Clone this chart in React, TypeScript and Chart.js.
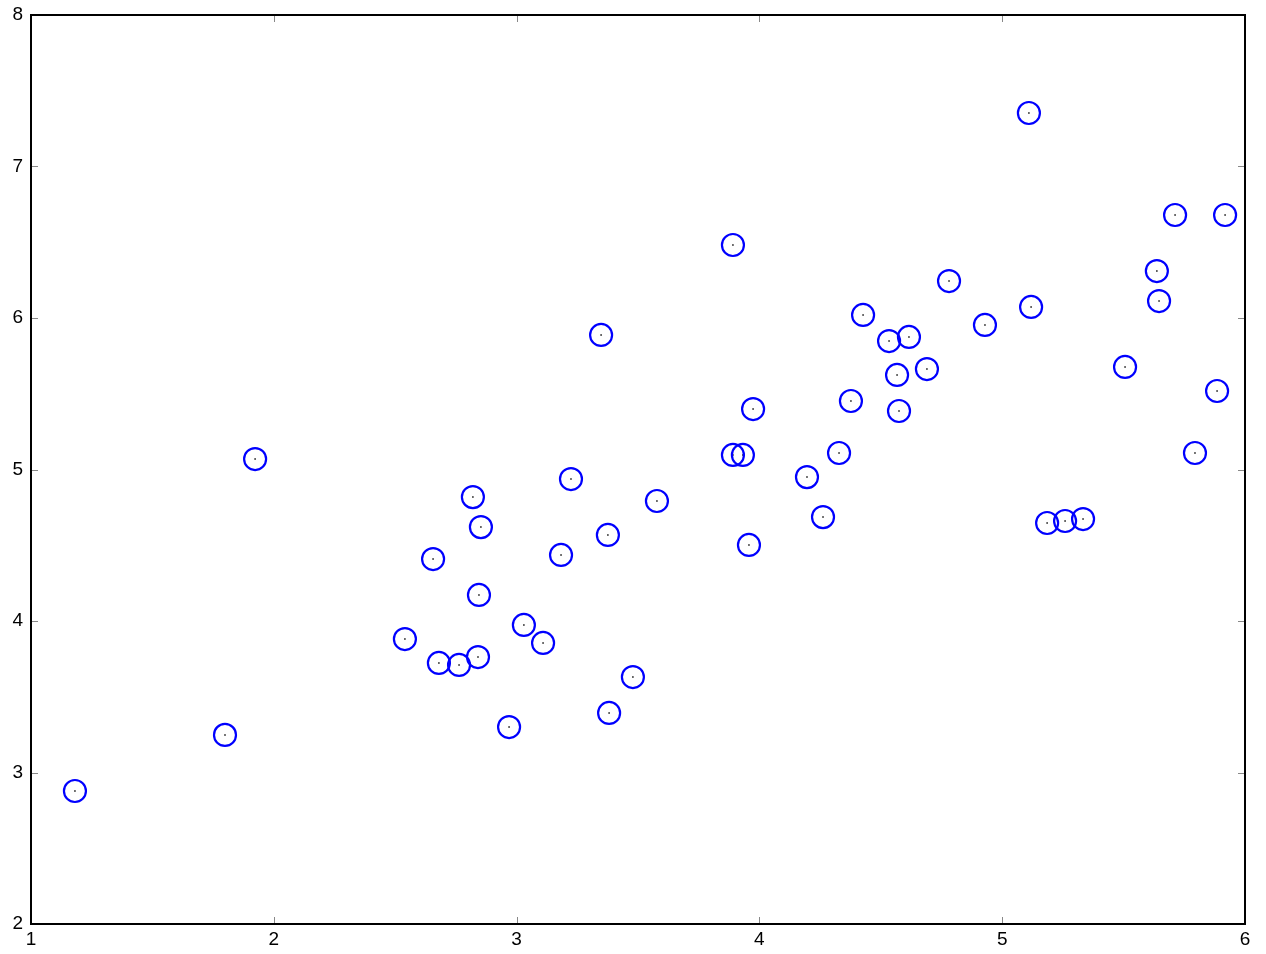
import React, { useEffect, useRef } from "react";
import { Chart, registerables } from "chart.js";

Chart.register(...registerables);

const xValues: number[] = [
  1.181, 1.799, 1.923, 2.54, 2.656, 2.68, 2.763, 2.82, 2.841, 2.845,
  2.853, 2.969, 3.03, 3.109, 3.183, 3.224, 3.348, 3.376, 3.381, 3.479,
  3.578, 3.891, 3.891, 3.932, 3.957, 3.974, 4.196, 4.262, 4.328, 4.377,
  4.427, 4.534, 4.567, 4.575, 4.616, 4.69, 4.781, 4.929, 5.11, 5.119,
  5.185, 5.259, 5.333, 5.506, 5.637, 5.646, 5.712, 5.794, 5.885, 5.918,
];
const yValues: number[] = [
  2.878, 3.248, 5.069, 3.881, 4.409, 3.723, 3.71, 4.818, 3.762, 4.172,
  4.62, 3.3, 3.974, 3.855, 4.436, 4.937, 5.888, 4.568, 3.393, 3.63,
  4.792, 6.482, 5.096, 5.096, 4.502, 5.399, 4.95, 4.686, 5.109, 5.452,
  6.02, 5.848, 5.624, 5.386, 5.875, 5.663, 6.244, 5.954, 7.353, 6.073,
  4.647, 4.66, 4.673, 5.677, 6.31, 6.112, 6.68, 5.109, 5.518, 6.68,
];
const xTicks: number[] = [1, 2, 3, 4, 5, 6];
const yTicks: number[] = [2, 3, 4, 5, 6, 7, 8];

const framePlugin = {
  id: "frameTicks",
  afterDatasetsDraw(chart: any) {
    const { ctx, chartArea } = chart;
    const { left, right, top, bottom } = chartArea;
    const xs = chart.scales.x;
    const ys = chart.scales.y;
    ctx.save();
    ctx.strokeStyle = "#888888";
    ctx.lineWidth = 1;
    const len = 7;
    ctx.beginPath();
    xTicks.forEach((v) => {
      const px = Math.round(xs.getPixelForValue(v)) + 0.5;
      ctx.moveTo(px, bottom);
      ctx.lineTo(px, bottom - len);
      ctx.moveTo(px, top);
      ctx.lineTo(px, top + len);
    });
    yTicks.forEach((v) => {
      const py = Math.round(ys.getPixelForValue(v)) + 0.5;
      ctx.moveTo(left, py);
      ctx.lineTo(left + len, py);
      ctx.moveTo(right, py);
      ctx.lineTo(right - len, py);
    });
    ctx.stroke();
    ctx.strokeStyle = "#000000";
    ctx.lineWidth = 2;
    ctx.strokeRect(left, top, right - left, bottom - top);
    ctx.restore();
  },
};

export default function App() {
  const canvasRef = useRef<HTMLCanvasElement | null>(null);

  useEffect(() => {
    if (!canvasRef.current) return;
    const pts = xValues.map((x, i) => ({ x, y: yValues[i] }));
    const chart = new Chart(canvasRef.current, {
      type: "scatter",
      data: {
        datasets: [
          {
            data: pts,
            pointRadius: 11,
            pointHoverRadius: 11,
            borderWidth: 2.2,
            borderColor: "#0000ff",
            backgroundColor: "rgba(0,0,0,0)",
          },
          {
            data: pts,
            pointStyle: "rect",
            pointRadius: 1,
            pointHoverRadius: 1,
            borderWidth: 0,
            borderColor: "#000000",
            backgroundColor: "#000000",
          },
        ],
      },
      options: {
        animation: false,
        responsive: false,
        maintainAspectRatio: false,
        events: [],
        layout: { padding: { left: 0, top: 15, right: 21, bottom: 0 } },
        plugins: {
          legend: { display: false },
          tooltip: { enabled: false },
          title: { display: false },
        },
        scales: {
          x: {
            type: "linear",
            min: 1,
            max: 6,
            afterFit: (s: any) => {
              s.height = 30;
              s.paddingLeft = 0;
              s.paddingRight = 0;
            },
            afterBuildTicks: (s: any) => {
              s.ticks = xTicks.map((v) => ({ value: v }));
            },
            grid: { display: false, drawTicks: false },
            border: { display: false },
            ticks: {
              padding: 4,
              color: "#000000",
              font: { family: "Liberation Sans, Arial, Helvetica, sans-serif", size: 19 },
              maxRotation: 0,
            },
          },
          y: {
            type: "linear",
            min: 2,
            max: 8,
            afterFit: (s: any) => {
              s.width = 31;
              s.paddingTop = 0;
              s.paddingBottom = 0;
            },
            afterBuildTicks: (s: any) => {
              s.ticks = yTicks.map((v) => ({ value: v }));
            },
            grid: { display: false, drawTicks: false },
            border: { display: false },
            ticks: {
              padding: 8,
              color: "#000000",
              font: { family: "Liberation Sans, Arial, Helvetica, sans-serif", size: 19 },
            },
          },
        },
      },
      plugins: [framePlugin],
    });
    return () => chart.destroy();
  }, []);

  return (
    <div style={{ position: "fixed", left: 0, top: 0, width: 1266, height: 954, background: "#ffffff" }}>
      <canvas ref={canvasRef} width={1266} height={954} style={{ width: 1266, height: 954, display: "block" }} />
    </div>
  );
}
